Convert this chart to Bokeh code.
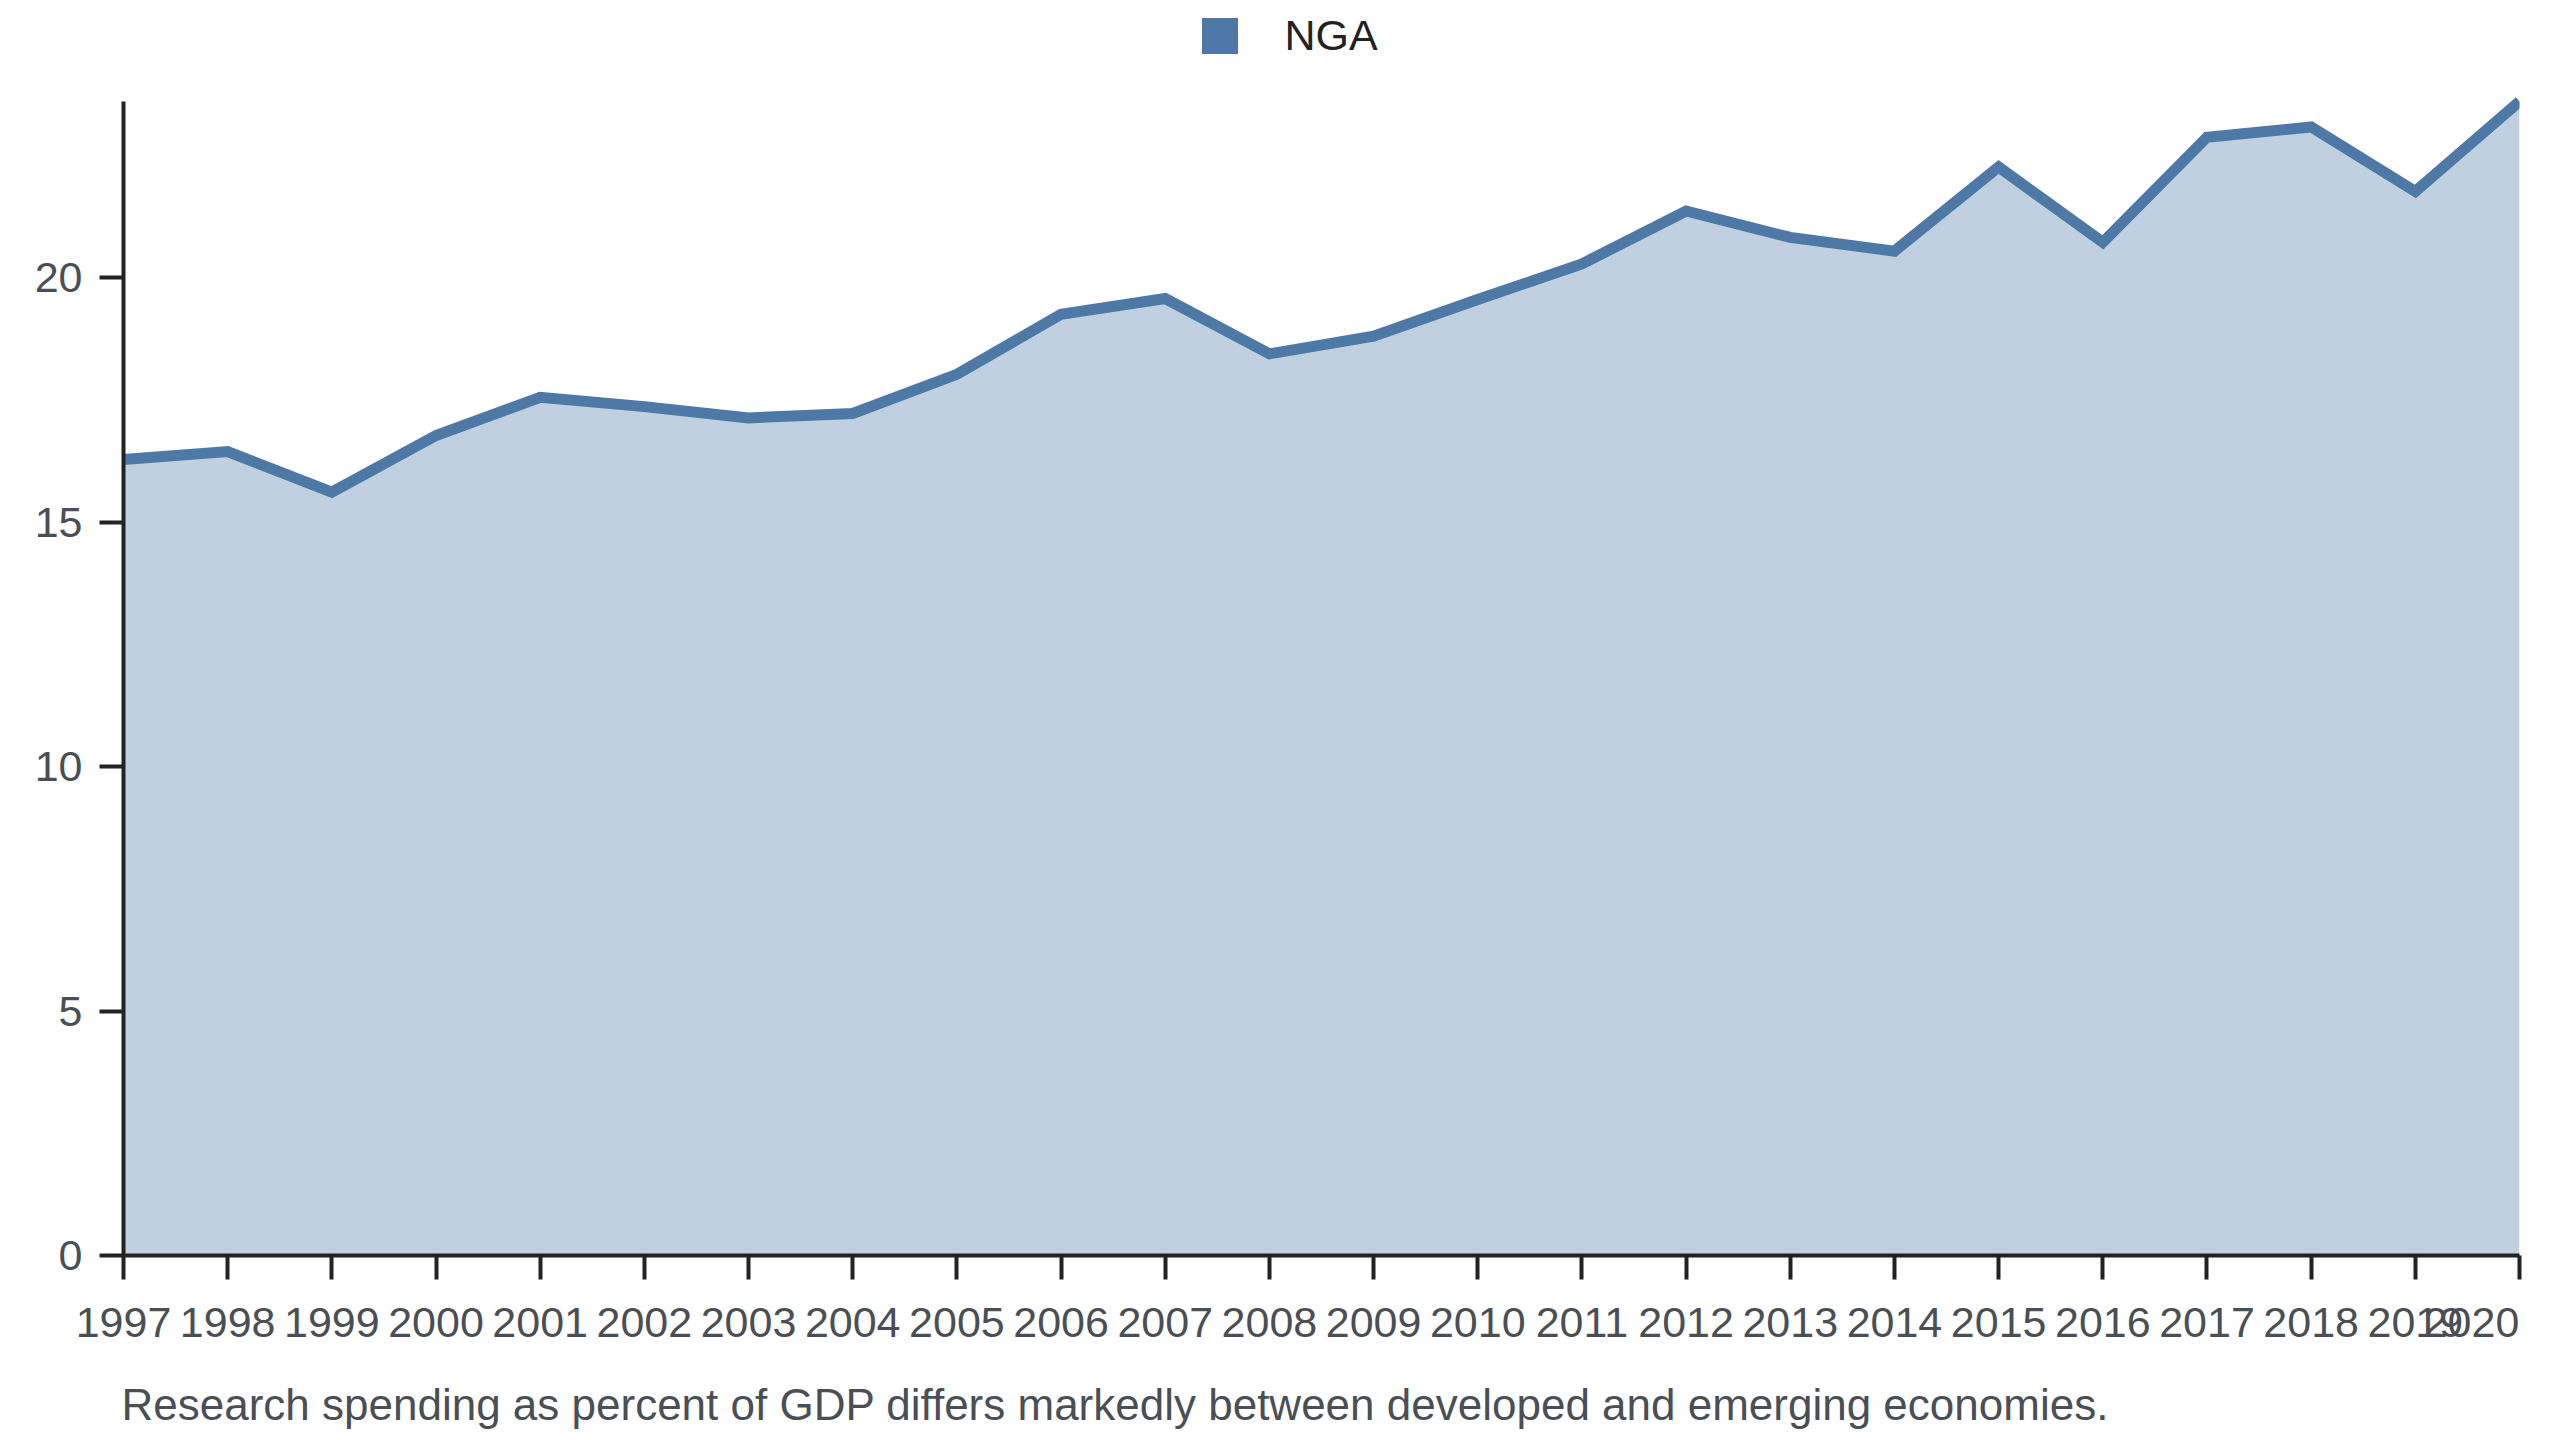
from bokeh.plotting import figure
from bokeh.models import (Range1d, FixedTicker, Legend, LegendItem, Title,
                          LinearAxis)
from bokeh.embed import file_html
from bokeh.resources import INLINE

# ---- data ----
years = list(range(1997, 2021))
nga = [16.28, 16.44, 15.61, 16.77, 17.55, 17.36, 17.13, 17.22, 18.02, 19.25,
       19.57, 18.44, 18.80, 19.55, 20.28, 21.36, 20.82, 20.54, 22.26, 20.72,
       22.87, 23.08, 21.76, 23.60]
year_labels = [str(y) for y in years]
y_ticks = [0, 5, 10, 15, 20]
series_name = "NGA"
caption = "Research spending as percent of GDP differs markedly between developed and emerging economies."

COLOR = "#4e79a7"
AXIS = "#222222"
TXT = "#4a4f55"
FONT = "Liberation Sans"
FS = "43px"

W, H = 2560, 1440
BL, BR, BB = 123, 41, 185
FRAME_H = H - BB          # frame spans the full top so the legend can live inside it
DATA_TOP_PX = 101         # where the top of the value axis sits, from the top

p = figure(width=W, height=H, output_backend="svg", toolbar_location=None,
           x_range=Range1d(years[0], years[-1]),
           y_range=Range1d(0, max(nga) * FRAME_H / (FRAME_H - DATA_TOP_PX)),
           min_border_left=BL, min_border_right=BR, min_border_top=0,
           min_border_bottom=BB)
p.outline_line_color = None
p.xgrid.visible = False
p.ygrid.visible = False

area = p.varea(x=years, y1=0, y2=nga, fill_color=COLOR, fill_alpha=0.35)
line = p.line(x=years, y=nga, line_color=COLOR, line_width=11, line_join="miter")
# zero-size quad that only serves as the solid legend swatch
swatch = p.quad(left=[years[0]], right=[years[0]], top=[0], bottom=[0],
                fill_color=COLOR, line_color=None)

def style_axis(ax):
    ax.axis_line_color = AXIS
    ax.axis_line_width = 4
    ax.major_tick_line_color = AXIS
    ax.major_tick_line_width = 4
    ax.major_tick_out = 24
    ax.major_tick_in = 0
    ax.minor_tick_line_color = None
    ax.major_label_text_font = FONT
    ax.major_label_text_font_size = FS
    ax.major_label_text_color = TXT

style_axis(p.xaxis[0])
style_axis(p.yaxis[0])

p.xaxis.ticker = FixedTicker(ticks=years)
overrides = {y: s for y, s in zip(years, year_labels)}
overrides[years[-1]] = ""          # last label drawn right-aligned below
p.xaxis.major_label_overrides = overrides
p.xaxis.major_label_standoff = 28

p.yaxis.ticker = FixedTicker(ticks=y_ticks)
p.yaxis.major_label_standoff = 17
p.yaxis.bounds = (0, max(nga))

# last year's label sits right-aligned at its tick (shifted by half its width)
frame_w = W - BL - BR
shift = 48.0 / (frame_w / (years[-1] - years[0]))
p.extra_x_ranges = {"last": Range1d(years[0] + shift, years[-1] + shift)}
ax2 = LinearAxis(x_range_name="last", ticker=FixedTicker(ticks=[years[-1]]),
                 major_label_overrides={years[-1]: year_labels[-1]})
style_axis(ax2)
ax2.axis_line_color = None
ax2.major_tick_line_color = None
ax2.major_tick_out = 0
ax2.major_label_standoff = -32
p.add_layout(ax2, "below")

# invisible spacer between the tick labels and the caption
spacer = LinearAxis(ticker=FixedTicker(ticks=[years[0]]), axis_line_color=None,
                    major_tick_line_color=None, minor_tick_line_color=None,
                    major_tick_out=36, major_tick_in=0, major_label_standoff=0,
                    major_label_text_color=None,
                    major_label_overrides={years[0]: ""})
p.add_layout(spacer, "below")

# caption
cap = Title(text=caption, align="left", vertical_align="top",
            text_font=FONT, text_font_size="44px",
            text_color=TXT, text_font_style="normal", standoff=8, offset=-2)
p.add_layout(cap, "below")

legend = Legend(items=[LegendItem(label=series_name, renderers=[swatch])],
                location=(1073.5, 1195), orientation="horizontal",
                glyph_width=45, glyph_height=45, label_standoff=43,
                padding=0, margin=0, spacing=0,
                border_line_color=None, background_fill_alpha=0,
                label_text_font=FONT, label_text_font_size=FS,
                label_text_color=AXIS)
p.add_layout(legend, "center")

open("out.html", "w").write(file_html(p, INLINE))
